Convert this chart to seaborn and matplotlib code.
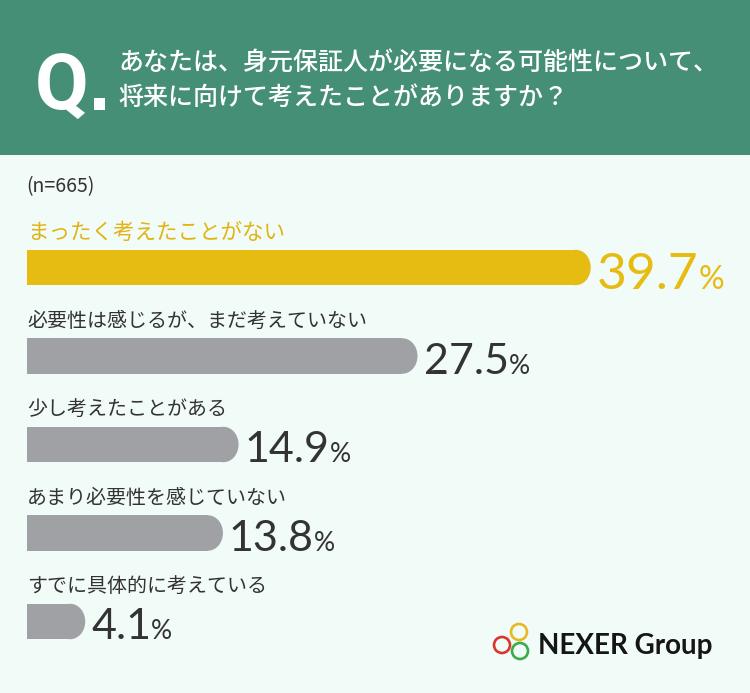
import matplotlib
matplotlib.use('Agg')
import matplotlib.pyplot as plt
from matplotlib.patches import Rectangle, Ellipse, Circle
import seaborn as sns
import pandas as pd

# Data
answers = [
    'まったく考えたことがない',
    '必要性は感じるが、まだ考えていない',
    '少し考えたことがある',
    'あまり必要性を感じていない',
    'すでに具体的に考えている',
]
shares = [39.7, 27.5, 14.9, 13.8, 4.1]
sample_note = '(n=665)'
question_lines = [
    'あなたは、身元保証人が必要になる可能性について、',
    '将来に向けて考えたことがありますか？',
]
brand = 'NEXER Group'

# Colours
BG = '#F1FBF8'
GREEN = '#468F77'
YELLOW = '#E6BC12'
GRAY = '#A0A1A5'
DARK = '#333333'
bar_colors = [YELLOW] + [GRAY] * (len(answers) - 1)

sns.set_theme(style='white')
plt.rcParams['font.family'] = ['Noto Sans CJK JP', 'DejaVu Sans']

fig = plt.figure(figsize=(7.5, 6.93), dpi=100, facecolor=BG)

# Background layer in pixel units (header, note, logo)
bg = fig.add_axes([0, 0, 1, 1])
bg.set_xlim(0, 750)
bg.set_ylim(693, 0)
bg.axis('off')
bg.add_patch(Rectangle((0, 0), 750, 155, color=GREEN, lw=0))
bg.text(35, 110, 'Q', family=['Roboto', 'DejaVu Sans'], fontweight='bold',
        fontsize=56, color='white', va='baseline', ha='left')
bg.add_patch(Rectangle((94, 98), 11, 12, color='white', lw=0))
bg.text(118, 64, question_lines[0], fontsize=18, fontweight='medium',
        color='white', va='center', ha='left')
bg.text(118, 98, question_lines[1], fontsize=18, fontweight='medium',
        color='white', va='center', ha='left')
bg.text(26, 187, sample_note, fontsize=14, color=DARK, va='center', ha='left')

# logo
bg.add_patch(Circle((519, 632), 8, fill=False, ec='#E9B923', lw=1.9))
bg.add_patch(Circle((502, 645), 8, fill=False, ec='#D9372B', lw=1.9))
bg.add_patch(Circle((520, 651), 8, fill=False, ec='#3DAA4B', lw=1.9))
bg.text(538, 654, brand, family=['Lato', 'DejaVu Sans'], fontweight='bold',
        fontsize=20, color='#151515', va='baseline', ha='left')

# Bar chart
ax = fig.add_axes([27 / 750, 1 - 665.75 / 693, 700 / 750, 442.5 / 693])
ax.patch.set_alpha(0)
df = pd.DataFrame({'answer': answers, 'share': shares})
sns.barplot(data=df, x='share', y='answer', hue='answer', palette=bar_colors,
            width=0.4, saturation=1, legend=False, ax=ax)
ax.set_xlim(0, 700 / 14.2)
ax.set_ylim(len(answers) - 0.5, -0.5)
ax.axis('off')

# rounded right ends: shorten the bar and put a half ellipse on its end
p0 = ax.transData.transform((0, 0))
p1 = ax.transData.transform((1, 1))
sx = abs(p1[0] - p0[0])
r = 15 / sx

for p in list(ax.patches):
    x0, y0, w, h = p.get_x(), p.get_y(), p.get_width(), p.get_height()
    p.set_width(w - r)
    p.set_linewidth(0)
    cap = Ellipse((x0 + w - r, y0 + h / 2), 2 * r, h,
                  fc=p.get_facecolor(), ec='none', lw=0)
    ax.add_patch(cap)

for i, (ans, v) in enumerate(zip(answers, shares)):
    top = i - 0.2
    bottom = i + 0.2
    first = i == 0
    col = YELLOW if first else DARK
    ax.annotate(ans, xy=(0, top), xytext=(0, 17), textcoords='offset pixels',
                va='center', ha='left', fontsize=15.5 if first else 14.4,
                color='#E1B414' if first else DARK, annotation_clip=False)
    dy = -4 if first else 0
    num = ax.annotate(f'{v:.1f}', xy=(v, bottom), xytext=(6, dy),
                      textcoords='offset pixels', va='baseline', ha='left',
                      family=['Lato', 'DejaVu Sans'],
                      fontsize=37 if first else 31, color=col,
                      annotation_clip=False)
    ax.annotate('%', xy=(1, bottom), xycoords=(num, 'data'), xytext=(0, dy),
                textcoords='offset pixels', va='baseline', ha='left',
                family=['Lato', 'DejaVu Sans'],
                fontsize=23 if first else 19, color=col,
                annotation_clip=False)

fig.savefig('out.png', dpi=100, facecolor=BG)
